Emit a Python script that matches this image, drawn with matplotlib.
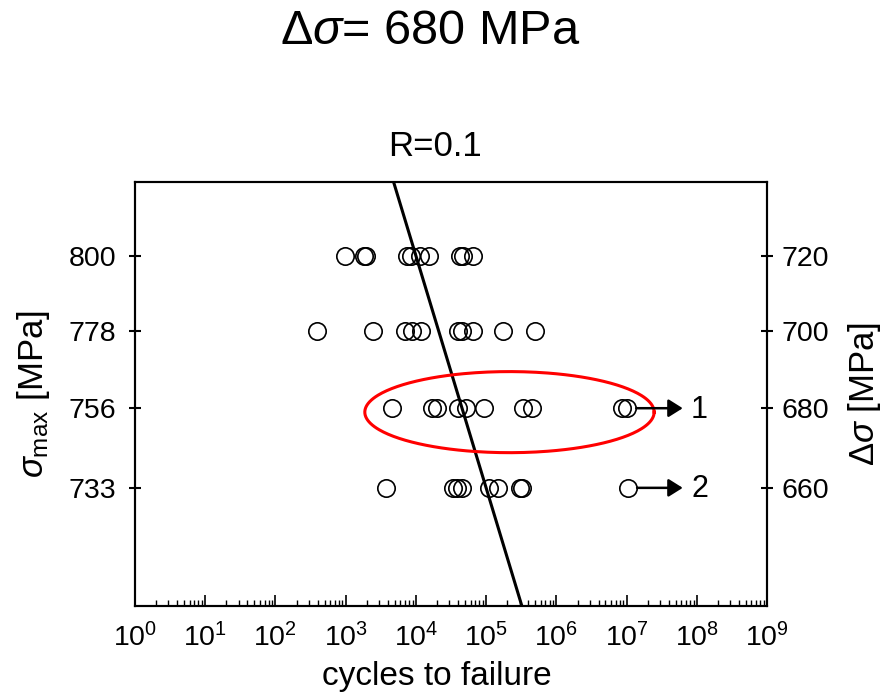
import numpy as np
import matplotlib
matplotlib.use("Agg")
import matplotlib.pyplot as plt
from matplotlib.ticker import LogLocator, NullLocator, FixedLocator

plt.rcParams["font.family"] = ["Liberation Sans", "DejaVu Sans"]
plt.rcParams["mathtext.fontset"] = "custom"
plt.rcParams["mathtext.rm"] = "Liberation Sans"
plt.rcParams["mathtext.it"] = "Liberation Sans:italic"
plt.rcParams["mathtext.sf"] = "Liberation Sans"

# stress range levels (MPa), R = 0.1 so sigma_max = delta_sigma / 0.9
delta_sigma_levels = [720, 700, 680, 660]
R = 0.1

# cycles to failure per level
cycles_720 = [990, 1820, 1960, 7500, 8430, 11460, 15170, 42800, 47000, 64600]
cycles_700 = [396, 2480, 6920, 8750, 11700, 40300, 45400, 64600, 176000, 495000]
cycles_680 = [4570, 16700, 19900, 40300, 51100, 92000, 336000, 451000, 8.5e6, 1.02e7]
cycles_660 = [3740, 33800, 39000, 45400, 110000, 147000, 299000, 325000, 1.05e7]

# run-outs (level, cycles, label)
runout_levels = [680, 660]
runout_cycles = [1.02e7, 1.05e7]
runout_labels = ["1", "2"]
runout_arrow_end = 6.3e7

# S-N line through two points
line_cycles = [1e4, 1e5]
line_stress = [720, 660]

# highlighted group (ellipse)
ellipse_center = (2.15e5, 679.0)
ellipse_half_decades = 2.06
ellipse_half_log_stress = 0.0066

fig = plt.figure(figsize=(8.84, 6.93), dpi=100)
ax = fig.add_axes([0.1527, 0.1255, 0.715, 0.612])

# data points
all_cycles = [cycles_720, cycles_700, cycles_680, cycles_660]
for level, cycles in zip(delta_sigma_levels, all_cycles):
    ax.plot(cycles, [level] * len(cycles), "o", ms=12.5, mfc="none",
            mec="black", mew=1.2, zorder=3)

ax.set_xscale("log")
ax.set_yscale("log")
ylim = (631.4, 740.2)
ax.set_xlim(1, 1e9)
ax.set_ylim(*ylim)

# S-N line over full height
k = np.log10(line_cycles[1] / line_cycles[0]) / np.log10(line_stress[1] / line_stress[0])
s = np.array(ylim)
n = line_cycles[0] * (s / line_stress[0]) ** k
ax.plot(n, s, color="black", lw=2.2, zorder=2)

# ellipse
t = np.linspace(0, 2 * np.pi, 300)
ex = 10 ** (np.log10(ellipse_center[0]) + ellipse_half_decades * np.cos(t))
ey = 10 ** (np.log10(ellipse_center[1]) + ellipse_half_log_stress * np.sin(t))
ax.plot(ex, ey, color="red", lw=2.2, zorder=4)

# run-out arrows
for level, c, lab in zip(runout_levels, runout_cycles, runout_labels):
    ax.annotate("", xy=(runout_arrow_end, level), xytext=(c, level),
                arrowprops=dict(arrowstyle="-|>,head_length=0.43,head_width=0.27",
                                color="black", lw=1.8,
                                mutation_scale=20, shrinkA=6.5, shrinkB=0),
                zorder=5)
    ax.annotate(lab, xy=(runout_arrow_end, level), xytext=(6, -1),
                textcoords="offset points", va="center", ha="left",
                fontsize=22)

# x axis
ax.xaxis.set_major_locator(LogLocator(base=10, numticks=20))
ax.xaxis.set_minor_locator(LogLocator(base=10, subs=np.arange(2, 10), numticks=20))
ax.tick_params(axis="x", which="major", direction="in", length=8, width=1.2,
               labelsize=20.5, pad=12, top=False)
ax.tick_params(axis="x", which="minor", direction="in", length=4, width=1.0, top=False)
ax.set_xlabel("cycles to failure", fontsize=24, labelpad=8)
ax.xaxis.set_label_coords(0.477, -0.13)

# left y axis: sigma_max
ax.yaxis.set_major_locator(FixedLocator(delta_sigma_levels))
ax.yaxis.set_minor_locator(NullLocator())
ax.set_yticklabels(["%d" % round(v / (1 - R)) for v in delta_sigma_levels])
ax.tick_params(axis="y", which="major", direction="inout", length=9, width=1.5,
               labelsize=20.5, pad=9)
ax.set_ylabel(r"$\mathit{σ}_{\rm max}$ [MPa]", fontsize=25, labelpad=12)

# right y axis: delta sigma
ax2 = ax.twinx()
ax2.set_yscale("log")
ax2.set_ylim(*ylim)
ax2.yaxis.set_major_locator(FixedLocator(delta_sigma_levels))
ax2.yaxis.set_minor_locator(NullLocator())
ax2.set_yticklabels(["%d" % v for v in delta_sigma_levels])
ax2.tick_params(axis="y", which="major", direction="inout", length=9, width=1.5,
                labelsize=20.5, pad=6)
ax2.set_ylabel(r"$\mathit{Δσ}$ [MPa]", fontsize=25, labelpad=12)

for a in (ax, ax2):
    for sp in a.spines.values():
        sp.set_linewidth(1.5)

ax.text(0.475, 1.045, "R=0.1", transform=ax.transAxes, fontsize=25,
        ha="center", va="bottom")
fig.text(0.487, 0.955, r"$\Delta\mathit{σ}$= 680 MPa", fontsize=35,
         ha="center", va="center")

plt.savefig("out.png", dpi=100)
